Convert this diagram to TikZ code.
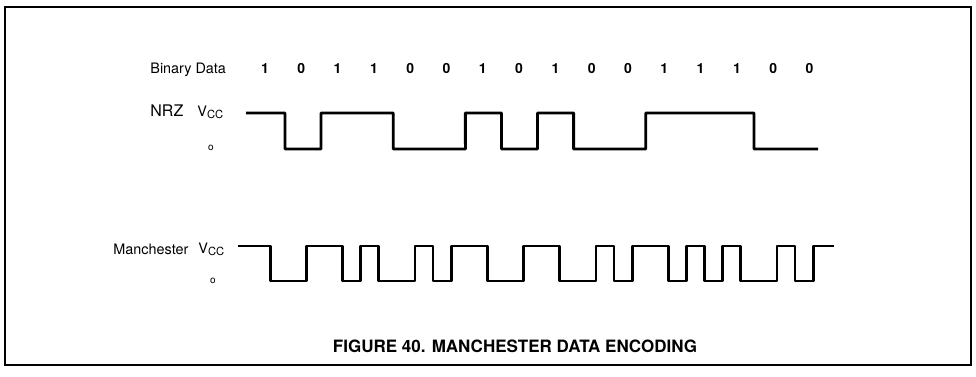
\documentclass[tikz,border=0pt]{standalone}
\usepackage{fontspec}
\setmainfont{TeX Gyre Heros}
\newcommand{\vcclbl}{V\raisebox{-1.3pt}{\fontsize{5.6}{6}\selectfont CC}}
\def\bits{1,0,1,1,0,0,1,0,1,0,0,1,1,1,0,0}

\begin{document}
\begin{tikzpicture}[
  x=0.5pt, y=-0.5pt,
  lbl/.style={font=\fontsize{7.2}{8.5}\selectfont, inner sep=0pt, anchor=base west},
  bitlbl/.style={font=\fontsize{7}{8.5}\selectfont\bfseries, inner sep=0pt, anchor=base},
  gnd/.style={font=\fontsize{5}{6}\selectfont, inner sep=0pt},
  wave/.style={line width=1.4pt, line join=round},
  frame/.style={line width=1.3pt}
]
  \useasboundingbox (0,0) rectangle (976,376);
  \draw[frame] (5,7) rectangle (971,365);
  \node[lbl] (binlbl) at (150,73) {Binary Data};
  \foreach \b [count=\i from 0] in \bits
    \node[bitlbl] (d\i) at ({265+36.3*\i},73) {\b};
  \node[lbl, font=\fontsize{8}{9}\selectfont] (nrz) at (150,116) {NRZ};
  \node[lbl] (nrzvcc) at (197,116) {\vcclbl};
  \node[gnd] (nrzgnd) at (211,148) {o};
  \node[lbl] (man) at (113,254) {Manchester};
  \node[lbl] (manvcc) at (198,253) {\vcclbl};
  \node[gnd] (mangnd) at (213,281) {o};
  \draw[wave] (246,113) foreach \b [count=\i from 0] in \bits {
    -- ({248.9+36.08*\i},{149-36*\b}) -- ({min(818,285+36.08*\i)},{149-36*\b})
  };
  \draw[wave] (238,246) foreach \b [count=\i from 0] in \bits {
    -- ({252+36.2*\i},{281-35*\b}) -- ({270.1+36.2*\i},{281-35*\b})
    -- ({270.1+36.2*\i},{246+35*\b}) -- ({288.2+36.2*\i},{246+35*\b})
  } -- (834,246);
  \node[font=\fontsize{8.5}{10}\selectfont\bfseries, inner sep=0pt] (title) at (515,346) {FIGURE 40. MANCHESTER DATA ENCODING};
\end{tikzpicture}
\end{document}
